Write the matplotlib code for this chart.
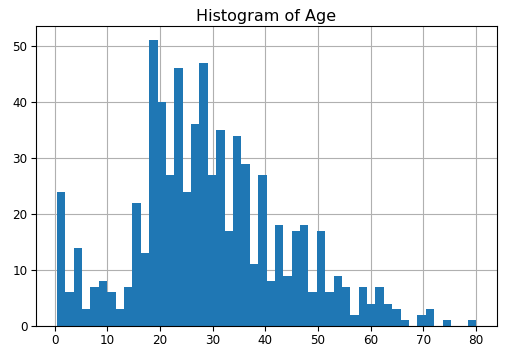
import numpy as np
import matplotlib
matplotlib.use("Agg")
import matplotlib.pyplot as plt

age_min = 0.42
age_max = 80.0
counts = [24, 6, 14, 3, 7, 8, 6, 3, 7, 22,
          13, 51, 40, 27, 46, 24, 36, 47, 27, 35,
          17, 34, 29, 11, 27, 8, 18, 9, 17, 18,
          6, 17, 6, 9, 7, 2, 7, 4, 7, 4,
          3, 1, 0, 2, 3, 0, 1, 0, 0, 1]

edges = np.linspace(age_min, age_max, len(counts) + 1)
centers = (edges[:-1] + edges[1:]) / 2

fig = plt.figure(figsize=(531/72, 362/72), dpi=72)
ax = fig.add_axes([36/531, 1 - 326/362, (497-36)/531, (326-26)/362])
ax.hist(centers, bins=edges, weights=counts, color="#1f77b4")
ax.grid(True, color="#b0b0b0", linewidth=1.1)
ax.set_axisbelow(True)
ax.set_title("Histogram of Age", fontsize=16, pad=5)
ax.tick_params(labelsize=12, length=5, width=1.1)
for s in ax.spines.values():
    s.set_linewidth(1.1)
fig.savefig("out.png", dpi=72)
